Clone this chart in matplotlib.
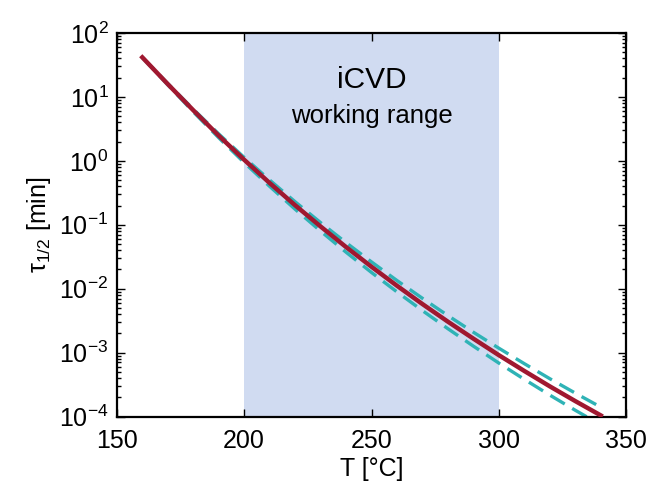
import numpy as np
import matplotlib
matplotlib.use("Agg")
import matplotlib.pyplot as plt
from matplotlib.ticker import LogLocator, NullFormatter

plt.rcParams['font.family'] = ['Liberation Sans', 'DejaVu Sans']
plt.rcParams['mathtext.fontset'] = 'custom'
plt.rcParams['mathtext.rm'] = 'Liberation Sans'
plt.rcParams['mathtext.it'] = 'Liberation Sans:italic'

###############################################################################

temp = [160, 170, 180, 190, 200, 210, 220, 230, 240, 250,
        260, 270, 280, 290, 300, 310, 320, 330, 340]

tau_mid = [41.7, 15.9, 6.2, 2.48, 1.04, 0.45, 0.202, 0.094, 0.0448, 0.0220,
           0.0111, 0.00574, 0.00304, 0.00165, 0.00091, 5.15e-4, 2.96e-4,
           1.74e-4, 1.04e-4]

tau_upper = [41.7, 16.2, 6.44, 2.64, 1.13, 0.501, 0.229, 0.108, 0.0525, 0.0262,
             0.0134, 0.00706, 0.00379, 0.00208, 0.00117, 6.70e-4, 3.90e-4,
             2.32e-4, 1.40e-4]

tau_lower = [41.7, 15.5, 5.86, 2.30, 0.94, 0.399, 0.175, 0.0796, 0.0372, 0.0179,
             0.00889, 0.00453, 0.00236, 0.00126, 6.84e-4, 3.81e-4, 2.16e-4,
             1.25e-4, 7.4e-5]

range_lo, range_hi = 200, 300

###############################################################################

fig = plt.figure(figsize=(6.49, 4.86), dpi=100)
ax = fig.add_axes([0.180, 0.143, 0.785, 0.789])

ax.axvspan(range_lo, range_hi, color='#d0dbf1', lw=0, zorder=0)

cyan = '#2fb3b6'
ax.plot(temp, tau_upper, color=cyan, lw=2.4, ls=(0, (5, 2.6)), zorder=2)
ax.plot(temp, tau_lower, color=cyan, lw=2.4, ls=(0, (5, 2.6)), zorder=2)
ax.plot(temp, tau_mid, color='#a01830', lw=3.2, zorder=3)

ax.set_yscale('log')
ax.set_xlim(150, 350)
ax.set_ylim(1e-4, 1e2)
ax.set_xticks([150, 200, 250, 300, 350])
ax.yaxis.set_major_locator(LogLocator(base=10, numticks=10))
ax.yaxis.set_minor_locator(LogLocator(base=10, subs=np.arange(2, 10), numticks=20))
ax.yaxis.set_minor_formatter(NullFormatter())

ax.tick_params(which='both', direction='in', top=True, right=True,
               labelsize=18, width=1.0)
ax.tick_params(which='major', length=6)
ax.tick_params(axis='x', which='major', pad=9)
ax.tick_params(axis='y', which='major', pad=6)
ax.tick_params(which='minor', length=3)
for sp in ax.spines.values():
    sp.set_linewidth(1.6)

ax.set_xlabel('T [°C]', fontsize=18, labelpad=3)
ax.set_ylabel('τ$_{1/2}$ [min]', fontsize=18, labelpad=4)

ax.text(250, 18.6, 'iCVD', ha='center', va='center', fontsize=21.5)
ax.text(250, 5.0, 'working range', ha='center', va='center', fontsize=18.5)

plt.savefig('out.png', dpi=100)
